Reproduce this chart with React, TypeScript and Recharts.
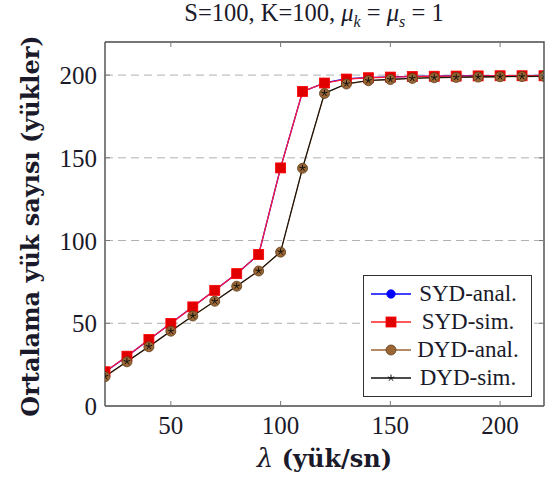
import React from "react";
import { LineChart, Line, XAxis, YAxis, CartesianGrid, Legend, Label } from "recharts";

const lambdaValues = [20, 30, 40, 50, 60, 70, 80, 90, 100, 110, 120, 130, 140, 150, 160, 170, 180, 190, 200, 210, 220];
const sydAnal = [20.5, 30, 40, 50, 60, 70, 80, 91.5, 144, 190, 195.3, 197.8, 198.5, 198.9, 199.2, 199.4, 199.5, 199.6, 199.7, 199.7, 199.8];
const sydSim = [20.7, 30.1, 40.2, 49.9, 59.9, 69.9, 80, 91.6, 143.9, 190.1, 195.2, 197.6, 198.4, 198.8, 199.1, 199.3, 199.4, 199.5, 199.6, 199.6, 199.6];
const dydAnal = [17.7, 26.7, 35.8, 45.2, 54.4, 63.3, 72.4, 81.6, 93, 143.7, 188.9, 194.6, 196.6, 197.3, 198, 198.4, 198.6, 198.8, 199, 199.1, 199.2];
const dydSim = [17.9, 26.9, 36, 45.3, 54.5, 63.4, 72.5, 81.7, 93.2, 143.8, 189.1, 194.8, 196.7, 197.4, 198.1, 198.5, 198.7, 198.9, 199.1, 199.2, 199.3];
const xTicks = [50, 100, 150, 200];
const yTicks = [0, 50, 100, 150, 200];
const xDomain = [20, 220];
const yDomain = [0, 220];
const seriesNames = ["SYD-anal.", "SYD-sim.", "DYD-anal.", "DYD-sim."];

const data = lambdaValues.map((x, i) => ({
  x,
  sydAnal: sydAnal[i],
  sydSim: sydSim[i],
  dydAnal: dydAnal[i],
  dydSim: dydSim[i],
}));

const SERIF = "'Liberation Serif', 'Times New Roman', serif";
const WIDE = "'DejaVu Serif', 'Liberation Serif', serif";
const AXIS = "#4a4a4a";
const TEXTC = "#1a1a2a";

const W = 546;
const H = 480;
const Y_AXIS_W = 105;
const X_AXIS_H = 74;
const MARGIN = { top: 42, right: 2, bottom: 0, left: 0 };
const PLOT = {
  left: MARGIN.left + Y_AXIS_W,
  top: MARGIN.top,
  right: W - MARGIN.right,
  bottom: H - MARGIN.bottom - X_AXIS_H,
};

const COLORS = {
  blue: "#0000ff",
  red: "#ff1a3a",
  redFill: "#e00000",
  brown: "#9a6633",
  brownDark: "#5e3c1c",
  black: "#111111",
};

type Marker = "circleBlue" | "square" | "circleBrown" | "star";

function drawMarker(kind: Marker, cx: number, cy: number, key?: any) {
  if (cx == null || cy == null || isNaN(cx) || isNaN(cy)) return <g key={key} />;
  if (kind === "circleBlue")
    return <circle key={key} cx={cx} cy={cy} r={4.2} fill={COLORS.blue} stroke={COLORS.blue} strokeWidth={0.8} />;
  if (kind === "square")
    return <rect key={key} x={cx - 5} y={cy - 5} width={10} height={10} fill={COLORS.redFill} stroke="#ff0000" strokeWidth={0.8} />;
  if (kind === "circleBrown")
    return <circle key={key} cx={cx} cy={cy} r={5} fill={COLORS.brown} stroke={COLORS.brownDark} strokeWidth={0.8} />;
  const r = 3.4;
  const segs = [0, 1, 2, 3, 4].map((k) => {
    const a = -Math.PI / 2 + (k * 2 * Math.PI) / 5;
    return `M${cx},${cy}L${cx + r * Math.cos(a)},${cy + r * Math.sin(a)}`;
  });
  return <path key={key} d={segs.join("")} stroke={COLORS.black} strokeWidth={1} fill="none" />;
}

const makeDot = (kind: Marker) => (props: any) => drawMarker(kind, props.cx, props.cy, props.key ?? `${kind}-${props.index}`);

const BottomTick = (props: any) => {
  const { x, y, payload } = props;
  const axisY = y - 10;
  return (
    <g>
      <line x1={x} y1={axisY} x2={x} y2={axisY - 5} stroke="#777" strokeWidth={1} />
      <text x={x} y={y} dy="0.72em" textAnchor="middle" style={{ fontFamily: SERIF }} fontSize={25} fill={TEXTC}>
        {payload.value}
      </text>
    </g>
  );
};

const LeftTick = (props: any) => {
  const { x, y, payload } = props;
  const axisX = x + 8;
  return (
    <g>
      <line x1={axisX} y1={y} x2={axisX + 5} y2={y} stroke="#777" strokeWidth={1} />
      <text x={x} y={y} dy="0.36em" textAnchor="end" style={{ fontFamily: SERIF }} fontSize={25} fill={TEXTC}>
        {payload.value}
      </text>
    </g>
  );
};

// frame on the top and right sides, with inward ticks mirroring the axes
const FrameOverlay = () => {
  const pw = PLOT.right - PLOT.left;
  const ph = PLOT.bottom - PLOT.top;
  const xPos = (v: number) => PLOT.left + ((v - xDomain[0]) / (xDomain[1] - xDomain[0])) * pw;
  const yPos = (v: number) => PLOT.bottom - ((v - yDomain[0]) / (yDomain[1] - yDomain[0])) * ph;
  return (
    <svg width={W} height={H} style={{ position: "absolute", left: 0, top: 0, pointerEvents: "none", zIndex: 3 }}>
      <path
        d={`M${PLOT.left},${PLOT.top}L${PLOT.right},${PLOT.top}L${PLOT.right},${PLOT.bottom}`}
        stroke={AXIS}
        strokeWidth={1.4}
        fill="none"
      />
      {xTicks.map((v) => (
        <line key={`tx${v}`} x1={xPos(v)} y1={PLOT.top} x2={xPos(v)} y2={PLOT.top + 5} stroke="#777" strokeWidth={1} />
      ))}
      {yTicks.map((v) => (
        <line key={`ty${v}`} x1={PLOT.right} y1={yPos(v)} x2={PLOT.right - 5} y2={yPos(v)} stroke="#777" strokeWidth={1} />
      ))}
    </svg>
  );
};

const legendItems: { name: string; color: string; marker: Marker }[] = [
  { name: seriesNames[0], color: COLORS.blue, marker: "circleBlue" },
  { name: seriesNames[1], color: "#ff2020", marker: "square" },
  { name: seriesNames[2], color: COLORS.brown, marker: "circleBrown" },
  { name: seriesNames[3], color: COLORS.black, marker: "star" },
];

const LegendBox = () => (
  <div
    style={{
      border: "1.2px solid #333",
      background: "#fff",
      padding: "4px 6px 4px 7px",
      width: 154,
      fontFamily: SERIF,
      fontSize: 23,
      color: TEXTC,
    }}
  >
    {legendItems.map((it) => (
      <div key={it.name} style={{ display: "flex", alignItems: "center", height: 28 }}>
        <svg width={40} height={20} style={{ flex: "none" }}>
          <line x1={0} y1={10} x2={40} y2={10} stroke={it.color} strokeWidth={1.3} />
          {drawMarker(it.marker, 20, 10)}
        </svg>
        <span style={{ flex: 1, textAlign: "center", lineHeight: "28px", whiteSpace: "nowrap" }}>{it.name}</span>
      </div>
    ))}
  </div>
);

export default function App() {
  return (
    <div style={{ position: "absolute", left: 0, top: 0, width: W, height: H, background: "#fff" }}>
      <div
        style={{
          position: "absolute",
          left: 114,
          width: 400,
          top: -1,
          textAlign: "center",
          fontFamily: SERIF,
          fontSize: 24.5,
          color: TEXTC,
          zIndex: 2,
          whiteSpace: "nowrap",
        }}
      >
        S=100, K=100, <i>μ</i>
        <sub style={{ fontSize: 16 }}>
          <i>k</i>
        </sub>{" "}
        = <i>μ</i>
        <sub style={{ fontSize: 16 }}>
          <i>s</i>
        </sub>{" "}
        = 1
      </div>
      <LineChart width={W} height={H} data={data} margin={MARGIN}>
        <CartesianGrid vertical={false} horizontal stroke="#b0b0b0" strokeDasharray="8 5" strokeWidth={1} horizontalValues={[50, 100, 150, 200]} />
        <XAxis
          dataKey="x"
          type="number"
          domain={xDomain}
          ticks={xTicks}
          allowDataOverflow
          height={X_AXIS_H}
          tickSize={0}
          tickMargin={10}
          tickLine={false}
          tick={<BottomTick />}
          axisLine={{ stroke: AXIS, strokeWidth: 1.4 }}
        >
          <Label
            content={(p: any) => {
              const vb = p.viewBox;
              return (
                <text x={vb.x + vb.width / 2} y={467} textAnchor="middle" style={{ fontFamily: WIDE }} fontSize={24} fontWeight="bold" fill={TEXTC}>
                  <tspan fontStyle="italic" fontWeight="normal" fontSize={26}>λ</tspan> (yük/sn)
                </text>
              );
            }}
          />
        </XAxis>
        <YAxis
          type="number"
          domain={yDomain}
          allowDataOverflow
          ticks={yTicks}
          width={Y_AXIS_W}
          tickSize={0}
          tickMargin={8}
          tickLine={false}
          tick={<LeftTick />}
          axisLine={{ stroke: AXIS, strokeWidth: 1.4 }}
        >
          <Label
            content={(p: any) => {
              const vb = p.viewBox;
              const cx = 30;
              const cy = vb.y + vb.height / 2 + 2;
              return (
                <text
                  x={cx}
                  y={cy}
                  transform={`rotate(-90 ${cx} ${cy})`}
                  textAnchor="middle"
                  dominantBaseline="central"
                  style={{ fontFamily: WIDE }}
                  fontSize={24}
                  fontWeight="bold"
                  fill={TEXTC}
                >
                  Ortalama yük sayısı (yükler)
                </text>
              );
            }}
          />
        </YAxis>
        <Line dataKey="sydAnal" name={seriesNames[0]} stroke={COLORS.blue} strokeWidth={1.3} dot={makeDot("circleBlue")} isAnimationActive={false} />
        <Line dataKey="sydSim" name={seriesNames[1]} stroke={COLORS.red} strokeWidth={1.3} dot={makeDot("square")} isAnimationActive={false} />
        <Line dataKey="dydAnal" name={seriesNames[2]} stroke={COLORS.brown} strokeWidth={1.3} dot={makeDot("circleBrown")} isAnimationActive={false} />
        <Line dataKey="dydSim" name={seriesNames[3]} stroke={COLORS.black} strokeWidth={1.1} dot={makeDot("star")} isAnimationActive={false} />
        <Legend
          layout="vertical"
          align="center"
          verticalAlign="middle"
          wrapperStyle={{ left: 363, top: 275, width: "auto" }}
          content={() => <LegendBox />}
        />
      </LineChart>
      <FrameOverlay />
    </div>
  );
}
